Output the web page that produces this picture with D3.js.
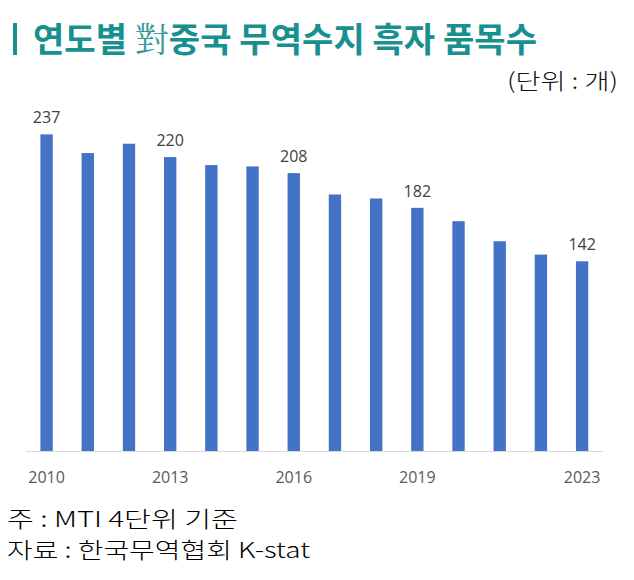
<!DOCTYPE html>
<html><head><meta charset="utf-8">
<script src="https://cdn.jsdelivr.net/npm/d3@7"></script>
<style>body{margin:0;background:#fff}svg{display:block}</style>
</head><body>
<svg id="c" width="634" height="580"></svg>
<script>
const years = [2010,2011,2012,2013,2014,2015,2016,2017,2018,2019,2020,2021,2022,2023];
const values = [237,223,230,220,214,213,208,192,189,182,172,157,147,142];
const labeledYears = [2010,2013,2016,2019,2023];
const tickYears = [2010,2013,2016,2019,2023];
const titleMain = ["연도별 ", "對", "중국 무역수지 흑자 품목수"];
const unitText = "(단위 : 개)";
const notes = ["주 : MTI 4단위 기준", "자료 : 한국무역협회 K-stat"];

const svg = d3.select("#c");
const x = d3.scaleBand().domain(years).range([26, 602.7]).paddingInner(0.7).paddingOuter(0.35);
const y = d3.scaleLinear().domain([0, 250]).range([451, 117]);

// title
svg.append("rect").attr("x",13).attr("y",23).attr("width",4).attr("height",32).attr("fill","#17908f");
const t = svg.append("text").attr("x",33).attr("y",52)
  .attr("font-family","'Noto Sans CJK KR', sans-serif").attr("font-size",34)
  .attr("font-weight","bold").attr("fill","#17908f")
  .attr("textLength",504).attr("lengthAdjust","spacingAndGlyphs");
t.append("tspan").text(titleMain[0]);
t.append("tspan").attr("font-weight","normal").attr("fill","#3a9a99").attr("font-family","'Noto Serif CJK KR','Noto Sans CJK KR', serif").text(titleMain[1]);
t.append("tspan").text(titleMain[2]);

svg.append("text").attr("x",618).attr("y",89).attr("text-anchor","end")
  .attr("font-family","'Noto Sans CJK KR', sans-serif").attr("font-size",22).attr("font-weight",300)
  .attr("fill","#111").attr("textLength",111).attr("lengthAdjust","spacingAndGlyphs").text(unitText);

// axis line
svg.append("line").attr("x1",26).attr("x2",602.7).attr("y1",451.5).attr("y2",451.5)
  .attr("stroke","#d9d9d9").attr("stroke-width",1);

// bars
svg.selectAll("rect.bar").data(years).enter().append("rect").attr("class","bar")
  .attr("x",d=>x(d)).attr("width",x.bandwidth())
  .attr("y",(d,i)=>y(values[i])).attr("height",(d,i)=>y(0)-y(values[i]))
  .attr("fill","#4472c4");

// value labels
svg.selectAll("text.val").data(years.filter(d=>labeledYears.includes(d))).enter().append("text")
  .attr("class","val").attr("x",d=>x(d)+x.bandwidth()/2).attr("y",d=>y(values[years.indexOf(d)])-11)
  .attr("text-anchor","middle").attr("font-family","'Open Sans', sans-serif").attr("font-size",16)
  .attr("fill","#404040").text(d=>values[years.indexOf(d)]);

// x axis labels
const ax = d3.axisBottom(x).tickValues(tickYears).tickSize(0).tickPadding(0);
const g = svg.append("g").attr("transform","translate(0,451)").call(ax);
g.select(".domain").remove();
g.selectAll("text").attr("dy",null).attr("y",32).attr("font-family","'Open Sans', sans-serif")
  .attr("font-size",16).attr("fill","#595959");

// notes
svg.selectAll("text.note").data(notes).enter().append("text").attr("class","note")
  .attr("x",7).attr("y",(d,i)=>527+i*31)
  .attr("font-family","'Noto Sans CJK KR', sans-serif").attr("font-size",22).attr("font-weight",300)
  .attr("fill","#000").attr("textLength",(d,i)=>i===0?231:303).attr("lengthAdjust","spacingAndGlyphs")
  .text(d=>d);
</script>
</body></html>
